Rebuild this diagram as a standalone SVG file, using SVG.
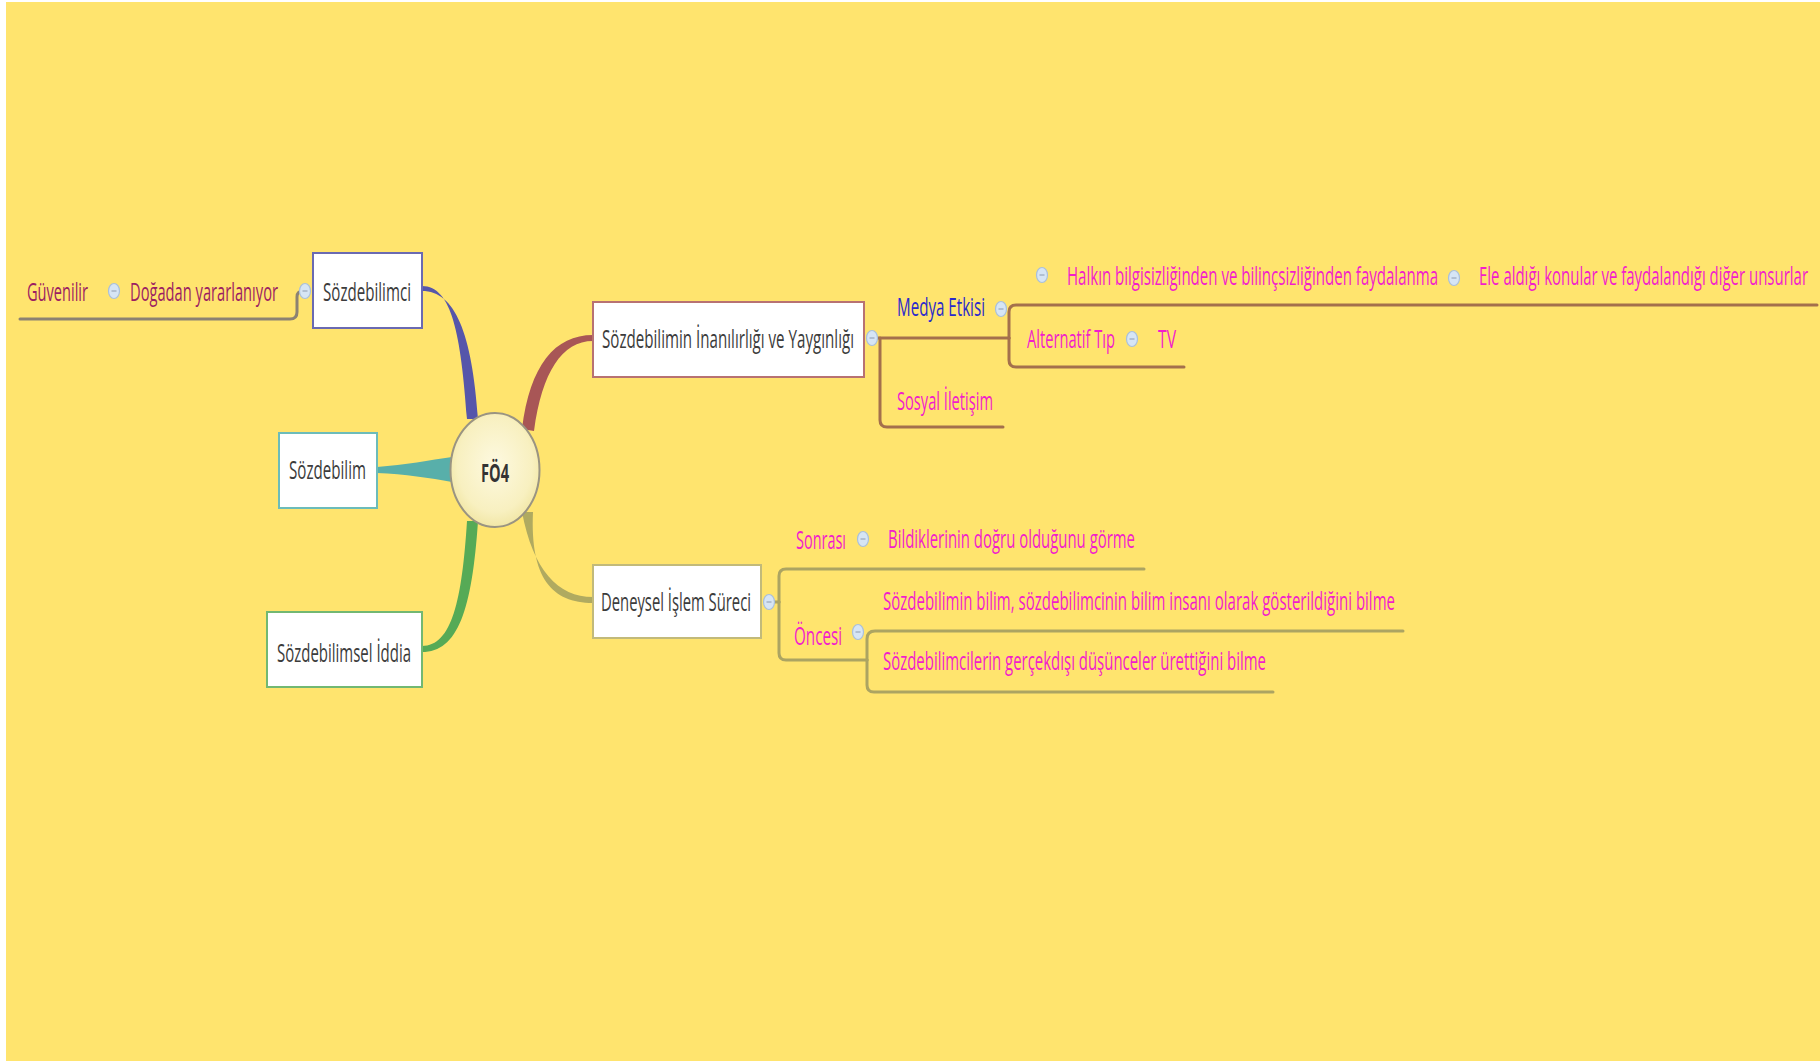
<svg xmlns="http://www.w3.org/2000/svg" width="1820" height="1061" viewBox="0 0 1820 1061">
  <defs>
    <radialGradient id="centerFill" cx="50%" cy="45%" r="60%">
      <stop offset="0" stop-color="#FDF9E0"/>
      <stop offset="0.7" stop-color="#F8F0C0"/>
      <stop offset="1" stop-color="#EFE39C"/>
    </radialGradient>
    <g id="bubble">
      <ellipse cx="0" cy="0" rx="5.5" ry="7.5" fill="#D6E5F5" stroke="#A9C0DC" stroke-width="1.2"/>
      <line x1="-2.5" y1="0" x2="2.5" y2="0" stroke="#8C9AB0" stroke-width="1"/>
    </g>
  </defs>
  <style>
    text { font-family: "Open Sans", "Liberation Sans", sans-serif; font-size: 14.7px; }
    .box { fill: #FFFFFF; stroke-width: 2; }
    .boxtext { fill: #3C3C3C; }
    .pink { fill: #F21ECB; }
    .plum { fill: #9C1E62; }
    .blue { fill: #2A2ACC; }
    .line { fill: none; stroke-width: 3; stroke-linecap: round; stroke-linejoin: round; }
  </style>

  <!-- background -->
  <rect x="0" y="0" width="1820" height="1061" fill="#FFFFFF"/>
  <rect x="6" y="2" width="1814" height="1059" fill="#FFE46E"/>

  <!-- connectors -->
  <g id="connectors">
    <!-- tapered main branches from the central topic -->
    <path d="M 422 286 C 452 286 461 335 467 419 L 478 419 C 472 333 455 291 422 291 Z" fill="#5656AA"/>
    <path d="M 377 467 C 405 465 430 460 452 457 L 452 482 C 430 478 405 474 377 473 Z" fill="#58AFAA"/>
    <path d="M 522 429 C 530 365 555 335 593 335 L 593 341 C 562 341 542 372 534 431 Z" fill="#A85656"/>
    <path d="M 522 512 C 533 570 558 597 593 597 L 593 603 C 552 603 530 578 533 512 Z" fill="#B0AA60"/>
    <path d="M 467 521 C 462 600 452 646 422 646 L 422 652 C 458 652 472 610 478 521 Z" fill="#56AA56"/>

    <!-- left sub-branch -->
    <path class="line" stroke="#8C8272" d="M 20 319 L 290 319 Q 297 319 297 312 L 297 297 Q 297 291 303 291"/>

    <!-- Sözdebilimin İnanılırlığı ve Yaygınlığı sub-branches -->
    <path class="line" stroke="#A4704C" d="M 877 338 L 1009 338"/>
    <path class="line" stroke="#A4704C" d="M 880 338 L 880 420 Q 880 427 887 427 L 1003 427"/>
    <path class="line" stroke="#A4704C" d="M 1009 338 L 1009 312 Q 1009 305 1016 305 L 1817 305"/>
    <path class="line" stroke="#A4704C" d="M 1009 338 L 1009 360 Q 1009 367 1016 367 L 1184 367"/>

    <!-- Deneysel İşlem Süreci sub-branches -->
    <path class="line" stroke="#ACA462" d="M 774 602 L 779 602"/>
    <path class="line" stroke="#ACA462" d="M 779 602 L 779 576 Q 779 569 786 569 L 1144 569"/>
    <path class="line" stroke="#ACA462" d="M 779 602 L 779 653 Q 779 660 786 660 L 867 660"/>
    <path class="line" stroke="#ACA462" d="M 867 660 L 867 639 Q 867 631 875 631 L 1403 631"/>
    <path class="line" stroke="#ACA462" d="M 867 660 L 867 685 Q 867 692 874 692 L 1273 692"/>
  </g>

  <!-- central topic -->
  <g id="center">
    <ellipse cx="495" cy="470" rx="44.5" ry="57" fill="url(#centerFill)" stroke="#9A9482" stroke-width="2"/>
    <text transform="translate(481 482) scale(1 1.7)" textLength="28" lengthAdjust="spacingAndGlyphs" font-weight="bold" fill="#333333" font-size="15.5">FÖ4</text>
  </g>

  <!-- left side -->
  <g id="sozdebilimci">
    <rect class="box" x="313" y="253" width="109" height="75" stroke="#6A6AB2"/>
    <text class="boxtext" transform="translate(323 301) scale(1 1.7)" textLength="88" lengthAdjust="spacingAndGlyphs">Sözdebilimci</text>
    <use href="#bubble" x="305" y="291"/>
  </g>
  <g id="dogadan">
    <text class="plum" transform="translate(130 301) scale(1 1.7)" textLength="148" lengthAdjust="spacingAndGlyphs">Doğadan yararlanıyor</text>
    <use href="#bubble" x="114" y="291"/>
  </g>
  <g id="guvenilir">
    <text class="plum" transform="translate(27 301) scale(1 1.7)" textLength="61" lengthAdjust="spacingAndGlyphs">Güvenilir</text>
  </g>
  <g id="sozdebilim">
    <rect class="box" x="279" y="433" width="98" height="75" stroke="#6CBCBA"/>
    <text class="boxtext" transform="translate(289 479) scale(1 1.7)" textLength="77" lengthAdjust="spacingAndGlyphs">Sözdebilim</text>
  </g>
  <g id="iddia">
    <rect class="box" x="267" y="612" width="155" height="75" stroke="#72B872"/>
    <text class="boxtext" transform="translate(277 662) scale(1 1.7)" textLength="134" lengthAdjust="spacingAndGlyphs">Sözdebilimsel İddia</text>
  </g>

  <!-- right side: upper branch -->
  <g id="inanilirlik">
    <rect class="box" x="593" y="302" width="271" height="75" stroke="#B87272"/>
    <text class="boxtext" transform="translate(602 348) scale(1 1.7)" textLength="252" lengthAdjust="spacingAndGlyphs">Sözdebilimin İnanılırlığı ve Yaygınlığı</text>
    <use href="#bubble" x="872" y="338"/>
  </g>
  <g id="medya">
    <text class="blue" transform="translate(897 316) scale(1 1.7)" textLength="88" lengthAdjust="spacingAndGlyphs">Medya Etkisi</text>
    <use href="#bubble" x="1001" y="309"/>
  </g>
  <g id="halkin">
    <use href="#bubble" x="1042" y="275"/>
    <text class="pink" transform="translate(1067 285) scale(1 1.7)" textLength="371" lengthAdjust="spacingAndGlyphs">Halkın bilgisizliğinden ve bilinçsizliğinden faydalanma</text>
    <use href="#bubble" x="1454" y="278"/>
  </g>
  <g id="ele-aldigi">
    <text class="pink" transform="translate(1479 285) scale(1 1.7)" textLength="329" lengthAdjust="spacingAndGlyphs">Ele aldığı konular ve faydalandığı diğer unsurlar</text>
  </g>
  <g id="alternatif">
    <text class="pink" transform="translate(1027 348) scale(1 1.7)" textLength="88" lengthAdjust="spacingAndGlyphs">Alternatif Tıp</text>
    <use href="#bubble" x="1132" y="339"/>
  </g>
  <g id="tv">
    <text class="pink" transform="translate(1158 348) scale(1 1.7)" textLength="18" lengthAdjust="spacingAndGlyphs">TV</text>
  </g>
  <g id="sosyal">
    <text class="pink" transform="translate(897 410) scale(1 1.7)" textLength="96" lengthAdjust="spacingAndGlyphs">Sosyal İletişim</text>
  </g>

  <!-- right side: lower branch -->
  <g id="deneysel">
    <rect class="box" x="593" y="565" width="168" height="73" stroke="#C2BA7A"/>
    <text class="boxtext" transform="translate(601 611) scale(1 1.7)" textLength="150" lengthAdjust="spacingAndGlyphs">Deneysel İşlem Süreci</text>
    <use href="#bubble" x="769" y="602"/>
  </g>
  <g id="sonrasi">
    <text class="pink" transform="translate(796 549) scale(1 1.7)" textLength="50" lengthAdjust="spacingAndGlyphs">Sonrası</text>
    <use href="#bubble" x="863" y="539"/>
  </g>
  <g id="bildiklerinin">
    <text class="pink" transform="translate(888 548) scale(1 1.7)" textLength="247" lengthAdjust="spacingAndGlyphs">Bildiklerinin doğru olduğunu görme</text>
  </g>
  <g id="oncesi">
    <text class="pink" transform="translate(794 645) scale(1 1.7)" textLength="48" lengthAdjust="spacingAndGlyphs">Öncesi</text>
    <use href="#bubble" x="858" y="632"/>
  </g>
  <g id="bilim-insani">
    <text class="pink" transform="translate(883 610) scale(1 1.7)" textLength="512" lengthAdjust="spacingAndGlyphs">Sözdebilimin bilim, sözdebilimcinin bilim insanı olarak gösterildiğini bilme</text>
  </g>
  <g id="gercekdisi">
    <text class="pink" transform="translate(883 670) scale(1 1.7)" textLength="383" lengthAdjust="spacingAndGlyphs">Sözdebilimcilerin gerçekdışı düşünceler ürettiğini bilme</text>
  </g>
</svg>
